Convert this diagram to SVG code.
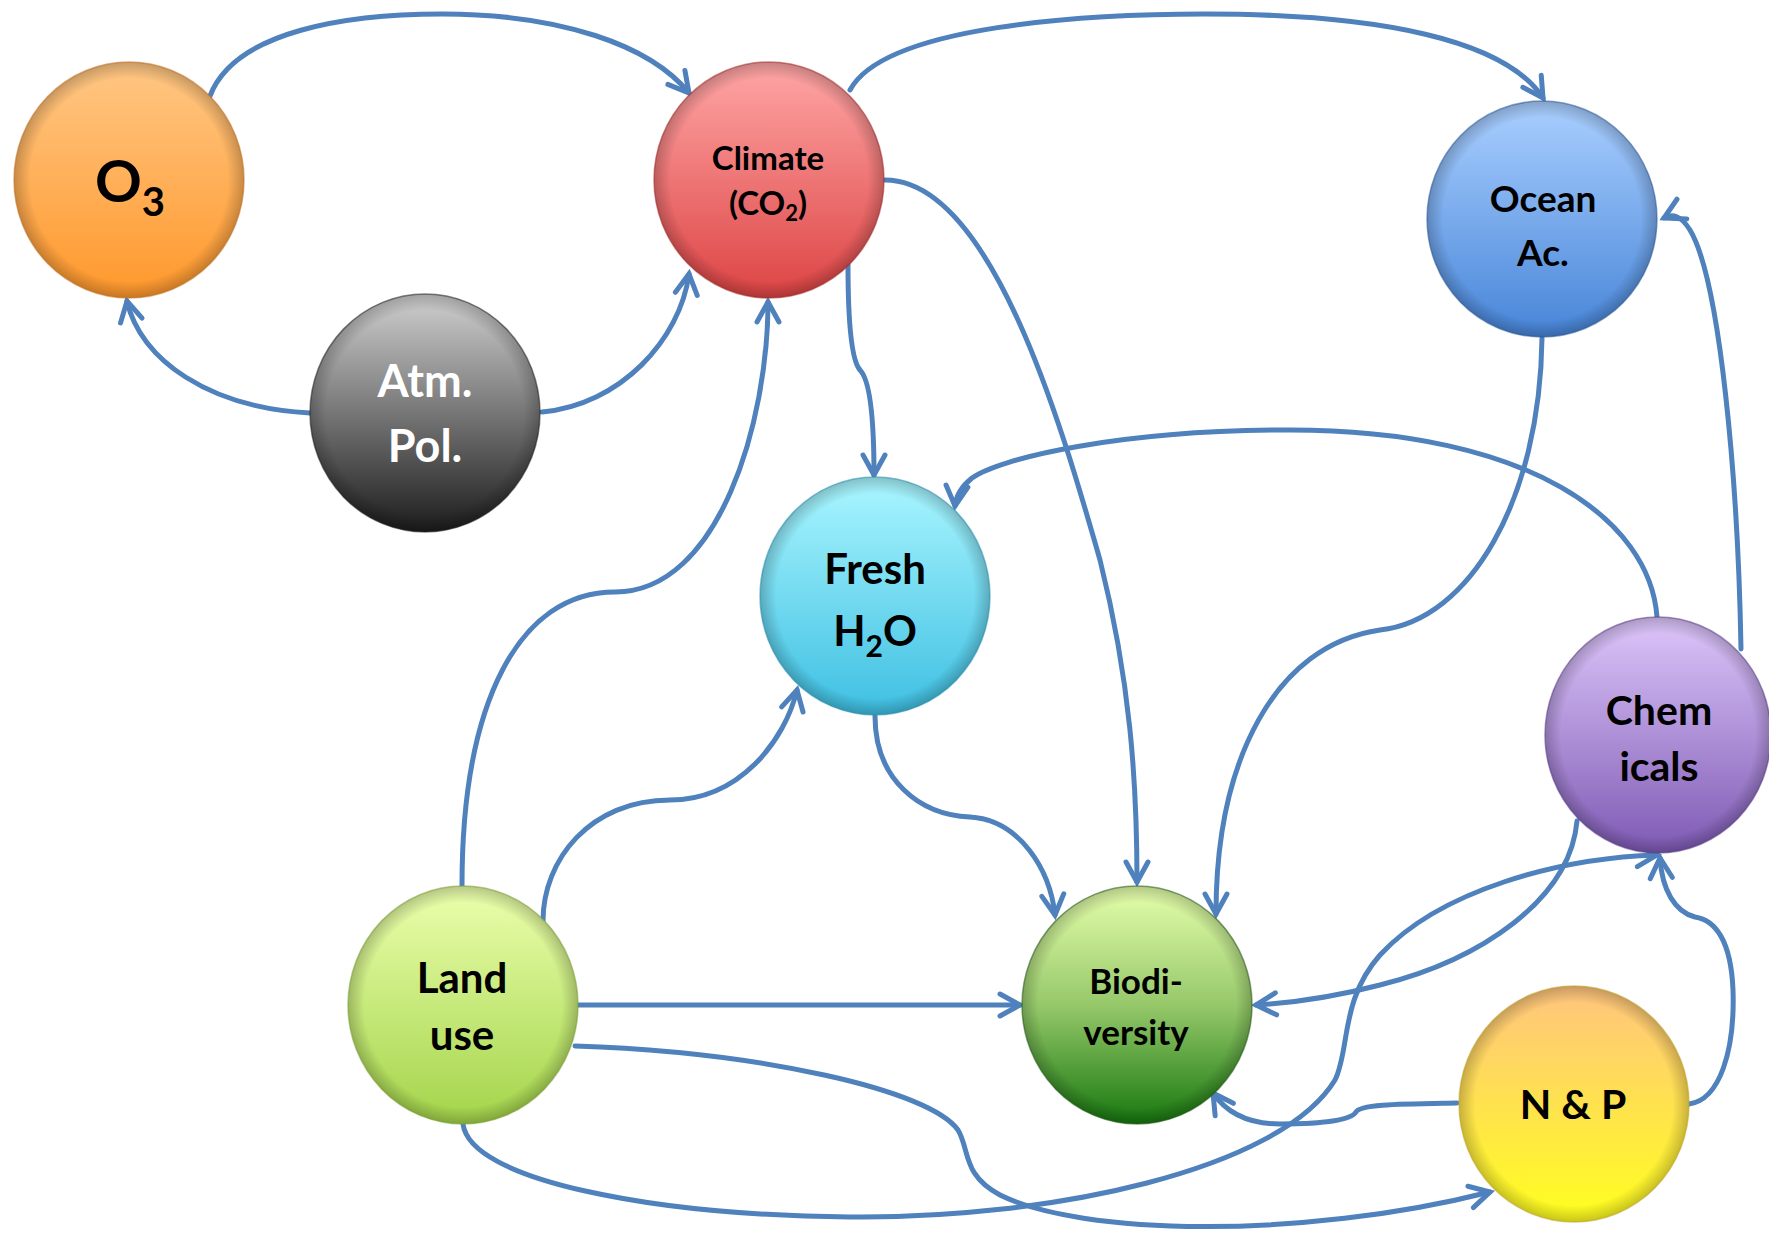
<svg xmlns="http://www.w3.org/2000/svg" width="1769" height="1237" viewBox="0 0 1769 1237">
  <style>
    .link { fill: none; stroke: #4F81BD; stroke-width: 5; stroke-linecap: round; stroke-linejoin: round; }
    .arrowed { marker-end: url(#arrow); }
    .bevel { fill: url(#edgeShade); }
    .rim { fill: none; stroke-width: 1.5; stroke-opacity: 0.55; }
    .label { font-family: Lato, "Open Sans", "Liberation Sans", sans-serif; font-weight: bold; text-anchor: middle; fill: #000; }
    .light { fill: #fff; }
  </style>
  <defs>
    <marker id="arrow" markerUnits="userSpaceOnUse" markerWidth="40" markerHeight="40" viewBox="-30 -20 40 40" refX="0" refY="0" orient="auto">
      <path d="M-20,-11 L0,0 L-20,11" fill="none" stroke="#4F81BD" stroke-width="5" stroke-linecap="round" stroke-linejoin="miter"/>
    </marker>
    <radialGradient id="edgeShade" cx="50%" cy="50%" r="50%">
      <stop offset="0" stop-color="#000" stop-opacity="0"/>
      <stop offset="0.86" stop-color="#000" stop-opacity="0"/>
      <stop offset="1" stop-color="#000" stop-opacity="0.22"/>
    </radialGradient>
    <linearGradient id="gO3" x1="0" y1="0" x2="0" y2="1"><stop offset="0" stop-color="#FFC785"/><stop offset="1" stop-color="#FF982C"/></linearGradient>
    <linearGradient id="gClimate" x1="0" y1="0" x2="0" y2="1"><stop offset="0" stop-color="#FFA6A6"/><stop offset="1" stop-color="#DD4444"/></linearGradient>
    <linearGradient id="gOcean" x1="0" y1="0" x2="0" y2="1"><stop offset="0" stop-color="#AACFFF"/><stop offset="1" stop-color="#4785D8"/></linearGradient>
    <linearGradient id="gAtm" x1="0" y1="0" x2="0" y2="1"><stop offset="0" stop-color="#D0D0D0"/><stop offset="1" stop-color="#1C1C1C"/></linearGradient>
    <linearGradient id="gFresh" x1="0" y1="0" x2="0" y2="1"><stop offset="0" stop-color="#AAF6FF"/><stop offset="1" stop-color="#3EBFE2"/></linearGradient>
    <linearGradient id="gChem" x1="0" y1="0" x2="0" y2="1"><stop offset="0" stop-color="#DDC6FA"/><stop offset="1" stop-color="#7E5AB4"/></linearGradient>
    <linearGradient id="gLand" x1="0" y1="0" x2="0" y2="1"><stop offset="0" stop-color="#EBFFAD"/><stop offset="1" stop-color="#A3D44A"/></linearGradient>
    <linearGradient id="gBio" x1="0" y1="0" x2="0" y2="1"><stop offset="0" stop-color="#E6FFAC"/><stop offset="0.5" stop-color="#96C86A"/><stop offset="1" stop-color="#17780F"/></linearGradient>
    <linearGradient id="gNP" x1="0" y1="0" x2="0" y2="1"><stop offset="0" stop-color="#FFC47F"/><stop offset="1" stop-color="#FFFF1E"/></linearGradient>
  </defs>

  <rect width="1769" height="1237" fill="#fff"/>

  <!-- connectors -->
  <g id="connectors">
    <!-- O3 -> Climate -->
    <path class="link arrowed" d="M210,96 C235,30 350,14 442,14 C560,14 650,45 689,93"/>
    <!-- Atm. Pol. -> O3 -->
    <path class="link arrowed" d="M310,413 C210,408 140,360 127,301"/>
    <!-- Atm. Pol. -> Climate -->
    <path class="link arrowed" d="M542,412 C620,405 680,340 689,274"/>
    <!-- Land use -> Climate -->
    <path class="link arrowed" d="M462,886 C462,700 520,592 615,592 C720,592 768,420 768,302"/>
    <!-- Climate -> Ocean Ac. -->
    <path class="link arrowed" d="M850,90 C885,25 1090,14 1205,14 C1380,14 1505,40 1543,98"/>
    <!-- Climate -> Biodiversity -->
    <path class="link arrowed" d="M885,180 C990,180 1060,420 1100,560 C1130,680 1137,780 1137,882"/>
    <!-- Climate -> Fresh H2O -->
    <path class="link arrowed" d="M848,265 C848,330 853,362 860,370 C870,380 874,420 874,475"/>
    <!-- Ocean Ac. -> Biodiversity -->
    <path class="link arrowed" d="M1542,338 C1540,500 1470,620 1380,630 C1275,645 1216,760 1216,914"/>
    <!-- Chemicals -> Fresh H2O -->
    <path class="link arrowed" d="M1657,617 C1650,520 1530,430 1290,430 C1120,430 1000,458 972,478 C962,486 956,496 955,506"/>
    <!-- Chemicals -> Ocean Ac. -->
    <path class="link arrowed" d="M1741,649 C1738,480 1720,280 1690,230 C1680,214 1672,214 1664,218"/>
    <!-- Fresh H2O -> Biodiversity -->
    <path class="link arrowed" d="M875,716 C875,780 920,815 970,817 C1020,820 1050,870 1055,915"/>
    <!-- Land use -> Fresh H2O -->
    <path class="link arrowed" d="M543,921 C543,860 590,800 670,800 C740,800 785,740 797,690"/>
    <!-- Land use -> Biodiversity -->
    <path class="link arrowed" d="M578,1005 L1020,1005"/>
    <!-- Land use -> N & P -->
    <path class="link arrowed" d="M575,1046 C760,1052 930,1090 958,1130 C970,1150 962,1175 1000,1195 C1080,1235 1300,1240 1490,1192"/>
    <!-- Land use -> Chemicals -->
    <path class="link arrowed" d="M463,1124 C470,1180 650,1215 850,1217 C1050,1219 1280,1170 1335,1080 C1350,1050 1340,1000 1380,955 C1440,890 1560,858 1657,855"/>
    <!-- Chemicals -> Biodiversity -->
    <path class="link arrowed" d="M1577,821 C1570,900 1480,960 1380,985 C1330,998 1290,1003 1256,1005"/>
    <!-- N & P -> Biodiversity -->
    <path class="link arrowed" d="M1457,1103 C1400,1104 1360,1104 1356,1112 C1350,1122 1310,1124 1280,1124 C1250,1124 1228,1115 1213,1093"/>
    <!-- N & P -> Chemicals -->
    <path class="link arrowed" d="M1689,1104 C1720,1100 1735,1050 1733,990 C1731,940 1715,920 1695,917 C1675,912 1662,890 1660,858"/>
  </g>

  <!-- nodes -->
  <g id="node-o3">
    <ellipse cx="129" cy="180" rx="115" ry="118" fill="url(#gO3)"/>
    <ellipse class="bevel" cx="129" cy="180" rx="115" ry="118"/>
    <ellipse class="rim" cx="129" cy="180" rx="115" ry="118" stroke="#C07020"/>
    <text class="label" x="130" y="202" font-size="58">O<tspan font-size="40" dy="14">3</tspan></text>
  </g>

  <g id="node-climate">
    <ellipse cx="769" cy="180" rx="115" ry="118" fill="url(#gClimate)"/>
    <ellipse class="bevel" cx="769" cy="180" rx="115" ry="118"/>
    <ellipse class="rim" cx="769" cy="180" rx="115" ry="118" stroke="#A02828"/>
    <text class="label" x="768" y="170" font-size="33">Climate</text>
    <text class="label" x="768" y="215" font-size="33">(CO<tspan font-size="22" dy="6">2</tspan><tspan dy="-6">)</tspan></text>
  </g>

  <g id="node-ocean">
    <ellipse cx="1542" cy="219" rx="115" ry="118" fill="url(#gOcean)"/>
    <ellipse class="bevel" cx="1542" cy="219" rx="115" ry="118"/>
    <ellipse class="rim" cx="1542" cy="219" rx="115" ry="118" stroke="#2C5A9A"/>
    <text class="label" x="1543" y="212" font-size="37">Ocean</text>
    <text class="label" x="1543" y="266" font-size="37">Ac.</text>
  </g>

  <g id="node-atm">
    <ellipse cx="425" cy="413" rx="115" ry="119" fill="url(#gAtm)"/>
    <ellipse class="bevel" cx="425" cy="413" rx="115" ry="119"/>
    <ellipse class="rim" cx="425" cy="413" rx="115" ry="119" stroke="#202020"/>
    <text class="label light" x="425" y="397" font-size="45">Atm.</text>
    <text class="label light" x="425" y="462" font-size="45">Pol.</text>
  </g>

  <g id="node-fresh">
    <ellipse cx="875" cy="596" rx="115" ry="119" fill="url(#gFresh)"/>
    <ellipse class="bevel" cx="875" cy="596" rx="115" ry="119"/>
    <ellipse class="rim" cx="875" cy="596" rx="115" ry="119" stroke="#2A90B0"/>
    <text class="label" x="875" y="584" font-size="42">Fresh</text>
    <text class="label" x="875" y="646" font-size="42">H<tspan font-size="30" dy="11">2</tspan><tspan dy="-11">O</tspan></text>
  </g>

  <g id="node-chemicals">
    <ellipse cx="1658" cy="735" rx="113" ry="118" fill="url(#gChem)"/>
    <ellipse class="bevel" cx="1658" cy="735" rx="113" ry="118"/>
    <ellipse class="rim" cx="1658" cy="735" rx="113" ry="118" stroke="#5A3C8A"/>
    <text class="label" x="1659" y="725" font-size="41">Chem</text>
    <text class="label" x="1659" y="781" font-size="41">icals</text>
  </g>

  <g id="node-land">
    <ellipse cx="463" cy="1005" rx="115" ry="119" fill="url(#gLand)"/>
    <ellipse class="bevel" cx="463" cy="1005" rx="115" ry="119"/>
    <ellipse class="rim" cx="463" cy="1005" rx="115" ry="119" stroke="#7AA030"/>
    <text class="label" x="462" y="993" font-size="42">Land</text>
    <text class="label" x="462" y="1050" font-size="42">use</text>
  </g>

  <g id="node-biodiversity">
    <ellipse cx="1137" cy="1005" rx="115" ry="119" fill="url(#gBio)"/>
    <ellipse class="bevel" cx="1137" cy="1005" rx="115" ry="119"/>
    <ellipse class="rim" cx="1137" cy="1005" rx="115" ry="119" stroke="#205A18"/>
    <text class="label" x="1136" y="994" font-size="35">Biodi-</text>
    <text class="label" x="1136" y="1045" font-size="35">versity</text>
  </g>

  <g id="node-np">
    <ellipse cx="1574" cy="1104" rx="115" ry="118" fill="url(#gNP)"/>
    <ellipse class="bevel" cx="1574" cy="1104" rx="115" ry="118"/>
    <ellipse class="rim" cx="1574" cy="1104" rx="115" ry="118" stroke="#C0A020"/>
    <text class="label" x="1573" y="1119" font-size="41">N &amp; P</text>
  </g>
</svg>
